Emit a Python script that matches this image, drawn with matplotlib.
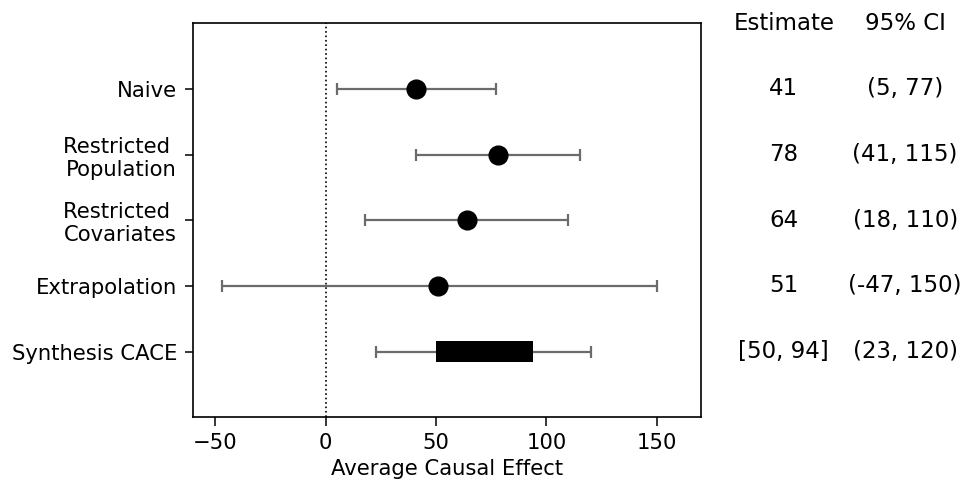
import matplotlib
matplotlib.use("Agg")
import matplotlib.pyplot as plt
import matplotlib.transforms as mtransforms

methods = ["Naive", "Restricted \nPopulation", "Restricted \nCovariates",
           "Extrapolation", "Synthesis CACE"]
estimates = [41, 78, 64, 51]
ci_low = [5, 41, 18, -47, 23]
ci_high = [77, 115, 110, 150, 120]
synth_bounds = [50, 94]
est_text = ["41", "78", "64", "51", "[50, 94]"]
ci_text = ["(5, 77)", "(41, 115)", "(18, 110)", "(-47, 150)", "(23, 120)"]

fig = plt.figure(figsize=(9.65, 4.83), dpi=100)
ax = fig.add_axes([0.2, 0.136, 0.5264, 0.8158])

ypos = list(range(len(methods)))
ebcol = "#6b6b6b"

ax.axvline(0, color="black", linestyle=":", linewidth=1.2, zorder=1)

for i in range(len(methods)):
    mid = (ci_low[i] + ci_high[i]) / 2
    ax.errorbar([mid], [ypos[i]], xerr=[[mid - ci_low[i]], [ci_high[i] - mid]],
                fmt="none", ecolor=ebcol, elinewidth=1.6, capsize=4.3,
                capthick=1.6, zorder=2)

ax.plot(estimates, ypos[:len(estimates)], "o", color="black", markersize=13.5, zorder=3)
ax.barh(ypos[-1], synth_bounds[1] - synth_bounds[0], left=synth_bounds[0],
        height=0.33, color="black", zorder=3)

ax.set_xlim(-60, 170)
ax.set_ylim(5, -1)
ax.set_xticks([-50, 0, 50, 100, 150])
ax.set_yticks(ypos)
ax.set_yticklabels(methods)
for s in ax.spines.values():
    s.set_linewidth(1.2)
ax.tick_params(axis="x", labelsize=15.2, length=6.5, width=1.1, pad=5)
ax.tick_params(axis="y", labelsize=15.2, length=6, width=1.1, pad=5.5)
ax.set_xlabel("Average Causal Effect", fontsize=15.2, labelpad=4)

trans = mtransforms.blended_transform_factory(ax.transAxes, ax.transData)
x_est, x_ci = 1.163, 1.402
ax.text(x_est, -1, "Estimate", transform=trans, ha="center", va="center", fontsize=16.5)
ax.text(x_ci, -1, "95% CI", transform=trans, ha="center", va="center", fontsize=16.5)
for i in range(len(methods)):
    ax.text(x_est, ypos[i], est_text[i], transform=trans, ha="center", va="center", fontsize=16.5)
    ax.text(x_ci, ypos[i], ci_text[i], transform=trans, ha="center", va="center", fontsize=16.5)

fig.savefig("out.png", dpi=100)
